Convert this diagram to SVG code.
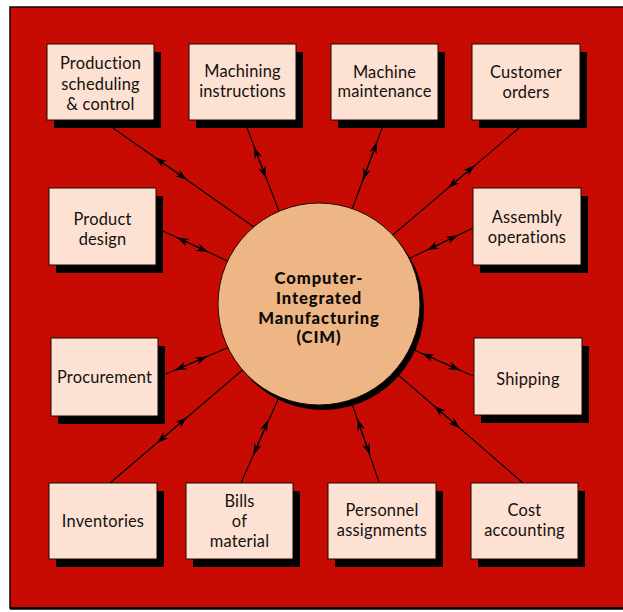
<svg xmlns="http://www.w3.org/2000/svg" width="623" height="612" viewBox="0 0 623 612">
<defs>
<marker id="ah" markerUnits="userSpaceOnUse" markerWidth="16" markerHeight="12" viewBox="-14 -6 16 12" refX="0" refY="0" orient="auto-start-reverse">
<path d="M0,0 L-12,-4 L-8,0 L-12,4 Z" fill="#000"/>
</marker>
</defs>
<style>
.bx{fill:#fde1d2;stroke:#1a0a05;stroke-width:1}
.sh{fill:#000}
.t{font-family:Lato,"Open Sans","Liberation Sans",sans-serif;font-size:16.4px;letter-spacing:0.2px;fill:#141010;text-anchor:middle}
.c{font-family:Lato,"Open Sans","Liberation Sans",sans-serif;font-size:16.6px;font-weight:900;letter-spacing:0.9px;fill:#0d0a08;text-anchor:middle}
.ln{stroke:#000;stroke-width:1.1;fill:none}
.ar{stroke:#000;stroke-width:1.1;fill:none;marker-start:url(#ah);marker-end:url(#ah)}
</style>
<rect x="0" y="0" width="623" height="612" fill="#fff"/>
<rect x="10" y="7" width="620" height="601" fill="#c70b03" stroke="#1a0000" stroke-width="1.5"/>
<line x1="10" y1="608.5" x2="623" y2="608.5" stroke="#000" stroke-width="2.5"/>

<g id="connectors">
<path class="ln" d="M113,128 L261,232"/><path class="ar" d="M155,157.4 L187,179.8"/>
<path class="ln" d="M247,128 L282,219"/><path class="ar" d="M254,147 L266,178"/>
<path class="ln" d="M382,128 L350,215"/><path class="ar" d="M377,142 L363,180"/>
<path class="ln" d="M519,128 L388,239"/><path class="ar" d="M475,165.3 L448,188"/>
<path class="ln" d="M163,231 L234,264"/><path class="ar" d="M177,237.6 L208,252.1"/>
<path class="ln" d="M473,228 L404,261"/><path class="ar" d="M458,235.2 L427,250.2"/>
<path class="ln" d="M166,374 L234,345"/><path class="ar" d="M175,370.2 L207,356.5"/>
<path class="ln" d="M473,376 L412,349"/><path class="ar" d="M460,370.2 L422,353.3"/>
<path class="ln" d="M110,483 L246,367"/><path class="ar" d="M157,442.9 L187,417.2"/>
<path class="ln" d="M241,483 L280,395"/><path class="ar" d="M253.4,455 L268,420"/>
<path class="ln" d="M379,482 L351,401"/><path class="ar" d="M370,455 L357.4,419"/>
<path class="ln" d="M523,483 L396,373"/><path class="ar" d="M460,428.3 L434,405.7"/>
</g>

<g id="cim">
<circle cx="323" cy="309" r="101" fill="#000"/>
<circle cx="319" cy="304" r="101" fill="#eeb585" stroke="#1a0a05" stroke-width="1"/>
<text class="c" x="319" y="283.5">Computer-</text>
<text class="c" x="319" y="303.5">Integrated</text>
<text class="c" x="319" y="324">Manufacturing</text>
<text class="c" x="319" y="343">(CIM)</text>
</g>

<g id="production-scheduling">
<rect class="sh" x="54" y="52" width="107" height="76"/>
<rect class="bx" x="47" y="44" width="107" height="76"/>
<text class="t" x="100.5" y="69">Production</text>
<text class="t" x="100.5" y="89.5">scheduling</text>
<text class="t" x="100.5" y="110">&amp; control</text>
</g>
<g id="machining-instructions">
<rect class="sh" x="196" y="52" width="107" height="76"/>
<rect class="bx" x="189" y="44" width="107" height="76"/>
<text class="t" x="242.5" y="77">Machining</text>
<text class="t" x="242.5" y="97">instructions</text>
</g>
<g id="machine-maintenance">
<rect class="sh" x="338" y="52" width="107" height="76"/>
<rect class="bx" x="331" y="44" width="107" height="76"/>
<text class="t" x="384.5" y="77.5">Machine</text>
<text class="t" x="384.5" y="97">maintenance</text>
</g>
<g id="customer-orders">
<rect class="sh" x="479" y="52" width="108" height="76"/>
<rect class="bx" x="472" y="44" width="108" height="76"/>
<text class="t" x="526" y="77.5">Customer</text>
<text class="t" x="526" y="97.5">orders</text>
</g>
<g id="product-design">
<rect class="sh" x="56" y="196" width="107" height="77"/>
<rect class="bx" x="49" y="188" width="107" height="77"/>
<text class="t" x="102.5" y="225">Product</text>
<text class="t" x="102.5" y="244.5">design</text>
</g>
<g id="assembly-operations">
<rect class="sh" x="480" y="196" width="108" height="77"/>
<rect class="bx" x="473" y="188" width="108" height="77"/>
<text class="t" x="527" y="222.5">Assembly</text>
<text class="t" x="527" y="242.5">operations</text>
</g>
<g id="procurement">
<rect class="sh" x="58" y="346" width="107" height="78"/>
<rect class="bx" x="51" y="338" width="107" height="78"/>
<text class="t" x="104.5" y="383">Procurement</text>
</g>
<g id="shipping">
<rect class="sh" x="481" y="346" width="108" height="77"/>
<rect class="bx" x="474" y="338" width="108" height="77"/>
<text class="t" x="528" y="385">Shipping</text>
</g>
<g id="inventories">
<rect class="sh" x="56" y="491" width="108" height="76"/>
<rect class="bx" x="49" y="483" width="108" height="76"/>
<text class="t" x="103" y="527">Inventories</text>
</g>
<g id="bills-of-material">
<rect class="sh" x="193" y="491" width="107" height="76"/>
<rect class="bx" x="186" y="483" width="107" height="76"/>
<text class="t" x="239.5" y="507">Bills</text>
<text class="t" x="239.5" y="527">of</text>
<text class="t" x="239.5" y="547">material</text>
</g>
<g id="personnel-assignments">
<rect class="sh" x="335" y="491" width="108" height="76"/>
<rect class="bx" x="328" y="483" width="108" height="76"/>
<text class="t" x="382" y="516">Personnel</text>
<text class="t" x="382" y="536">assignments</text>
</g>
<g id="cost-accounting">
<rect class="sh" x="478" y="491" width="107" height="76"/>
<rect class="bx" x="471" y="483" width="107" height="76"/>
<text class="t" x="524.5" y="516">Cost</text>
<text class="t" x="524.5" y="536">accounting</text>
</g>
</svg>
